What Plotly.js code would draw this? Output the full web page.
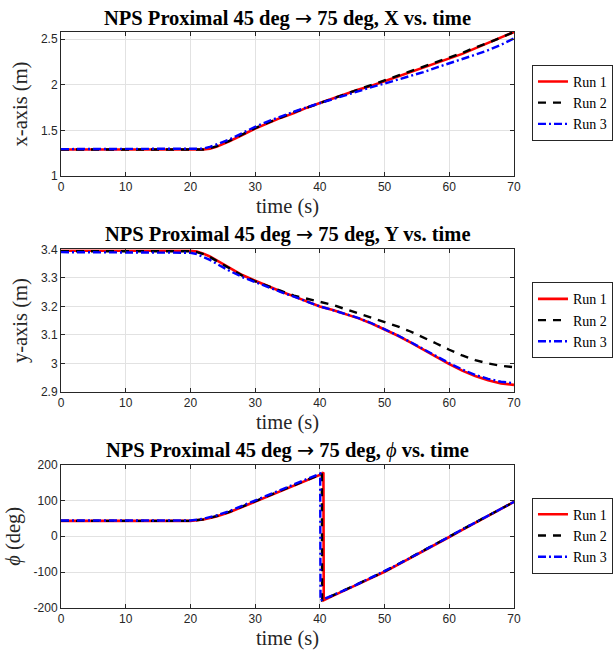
<!DOCTYPE html>
<html>
<head>
<meta charset="utf-8">
<script src="https://cdn.plot.ly/plotly-3.0.1.min.js"></script>
<style>
  html, body { margin: 0; padding: 0; background: #ffffff; overflow: hidden; }
  #chart { width: 613px; height: 652px; }
</style>
</head>
<body>
<div id="chart"></div>
<script>
// ---------- data ----------
const runNames = ['Run 1', 'Run 2', 'Run 3'];

const timeXY = [0, 5, 10, 15, 20, 21, 22, 23, 24, 25, 26, 28, 30, 32, 34, 36, 38, 40, 42, 44, 46, 48, 50, 52, 54, 56, 58, 60, 62, 64, 66, 68, 70];

const xRun1 = [1.29, 1.29, 1.29, 1.29, 1.29, 1.29, 1.29, 1.30, 1.32, 1.35, 1.38, 1.45, 1.52, 1.58, 1.64, 1.69, 1.75, 1.80, 1.85, 1.90, 1.95, 1.99, 2.04, 2.09, 2.14, 2.19, 2.24, 2.29, 2.34, 2.40, 2.46, 2.52, 2.58];
const xRun2 = [1.29, 1.29, 1.29, 1.29, 1.29, 1.29, 1.29, 1.305, 1.325, 1.355, 1.385, 1.455, 1.525, 1.585, 1.645, 1.70, 1.75, 1.80, 1.855, 1.905, 1.955, 2.00, 2.05, 2.10, 2.15, 2.20, 2.25, 2.30, 2.35, 2.41, 2.46, 2.52, 2.58];
const xRun3 = [1.295, 1.295, 1.295, 1.295, 1.295, 1.295, 1.30, 1.32, 1.345, 1.37, 1.40, 1.47, 1.54, 1.60, 1.655, 1.705, 1.755, 1.80, 1.845, 1.89, 1.935, 1.975, 2.015, 2.055, 2.10, 2.14, 2.19, 2.235, 2.28, 2.33, 2.38, 2.44, 2.51];

const yRun1 = [3.395, 3.395, 3.395, 3.395, 3.395, 3.392, 3.385, 3.375, 3.362, 3.35, 3.335, 3.31, 3.29, 3.27, 3.252, 3.235, 3.218, 3.20, 3.187, 3.173, 3.158, 3.14, 3.12, 3.098, 3.074, 3.048, 3.022, 2.998, 2.975, 2.956, 2.941, 2.930, 2.925];
const yRun2 = [3.393, 3.393, 3.393, 3.393, 3.393, 3.39, 3.383, 3.373, 3.36, 3.348, 3.333, 3.308, 3.288, 3.27, 3.254, 3.238, 3.226, 3.216, 3.205, 3.19, 3.175, 3.16, 3.145, 3.13, 3.112, 3.092, 3.07, 3.048, 3.028, 3.012, 3.0, 2.992, 2.987];
const yRun3 = [3.39, 3.39, 3.39, 3.39, 3.388, 3.383, 3.374, 3.363, 3.35, 3.337, 3.325, 3.303, 3.285, 3.267, 3.25, 3.234, 3.217, 3.20, 3.187, 3.174, 3.159, 3.141, 3.121, 3.099, 3.075, 3.05, 3.025, 3.001, 2.979, 2.96, 2.946, 2.936, 2.931];

const timePhi1 = [0, 5, 10, 15, 20, 22, 24, 26, 28, 30, 32, 34, 36, 38, 40, 40.55, 40.6, 42, 44, 46, 48, 50, 52, 54, 56, 58, 60, 62, 64, 66, 68, 70];
const phiRun1 = [43, 43, 43, 43, 43, 47, 55, 67, 82, 97, 111, 125, 140, 155, 171, 178, -178, -166, -150, -133, -116, -99, -80, -61, -42, -22, -2, 18, 37, 56, 76, 96];
const timePhi2 = [0, 5, 10, 15, 20, 22, 24, 26, 28, 30, 32, 34, 36, 38, 40, 40.3, 40.35, 42, 44, 46, 48, 50, 52, 54, 56, 58, 60, 62, 64, 66, 68, 70];
const phiRun2 = [43, 43, 43, 43, 43, 47, 56, 68, 83, 98, 112, 126, 141, 156, 172, 176, -178, -165, -149, -132, -115, -98, -79, -60, -41, -21, -1, 19, 38, 57, 77, 96];
const timePhi3 = [0, 5, 10, 15, 20, 22, 24, 26, 28, 30, 32, 34, 36, 38, 40, 40.05, 40.1, 42, 44, 46, 48, 50, 52, 54, 56, 58, 60, 62, 64, 66, 68, 70];
const phiRun3 = [44, 44, 44, 44, 44, 49, 58, 70, 85, 100, 114, 128, 143, 158, 173, 175, -179, -165, -149, -132, -115, -98, -79, -60, -41, -21, -1, 19, 38, 57, 77, 96];

const xTickVals = [1, 1.5, 2, 2.5];
const xTickText = ['1', '1.5', '2', '2.5'];
const yTickVals = [2.9, 3.0, 3.1, 3.2, 3.3, 3.4];
const yTickText = ['2.9', '3', '3.1', '3.2', '3.3', '3.4'];
const phiTickVals = [-200, -100, 0, 100, 200];
const phiTickText = ['-200', '-100', '0', '100', '200'];
const timeTickVals = [0, 10, 20, 30, 40, 50, 60, 70];

const arrow = '</b><span style="font-family:DejaVu Sans;font-weight:normal">\u2192</span><b>';
const titles = [
  'NPS Proximal 45 deg ' + arrow + ' 75 deg, X vs. time',
  'NPS Proximal 45 deg ' + arrow + ' 75 deg, Y vs. time',
  'NPS Proximal 45 deg ' + arrow + ' 75 deg, </b><i>\u03D5</i><b> vs. time'
];
const yLabels = ['x-axis (m)', 'y-axis (m)', '<i>\u03D5</i> (deg)'];
const xLabel = 'time (s)';

// ---------- styles ----------
const serif = 'Liberation Serif, Times New Roman, serif';
const sans = 'Liberation Sans, Arial, Helvetica, sans-serif';
const axCol = '#262626';
const styles = [
  { color: '#ff0000', width: 2.6, dash: 'solid' },
  { color: '#000000', width: 2.4, dash: '8px,7px' },
  { color: '#0000ff', width: 2.4, dash: '8px,3px,2px,3px' }
];

function mkTrace(xs, ys, i, p) {
  const sfx = p === 1 ? '' : String(p);
  return {
    type: 'scatter', mode: 'lines',
    x: xs, y: ys, name: runNames[i],
    xaxis: 'x' + sfx, yaxis: 'y' + sfx,
    legend: 'legend' + sfx,
    line: { color: styles[i].color, width: styles[i].width, dash: styles[i].dash }
  };
}

const traces = [
  mkTrace(timeXY, xRun1, 0, 1), mkTrace(timeXY, xRun2, 1, 1), mkTrace(timeXY, xRun3, 2, 1),
  mkTrace(timeXY, yRun1, 0, 2), mkTrace(timeXY, yRun2, 1, 2), mkTrace(timeXY, yRun3, 2, 2),
  mkTrace(timePhi1, phiRun1, 0, 3), mkTrace(timePhi2, phiRun2, 1, 3), mkTrace(timePhi3, phiRun3, 2, 3)
];

function baseAxis() {
  return {
    showline: true, linecolor: axCol, linewidth: 1, mirror: 'ticks',
    ticks: 'inside', ticklen: 4, tickcolor: axCol, tickwidth: 1,
    showgrid: true, gridcolor: '#e2e2e2', gridwidth: 1, zeroline: false,
    tickfont: { family: sans, size: 12, color: axCol },
    automargin: false
  };
}
function xAxis(anchor) {
  return Object.assign(baseAxis(), {
    anchor: anchor, range: [0, 70], tickvals: timeTickVals,
    title: { text: xLabel, font: { family: serif, size: 20.5, color: axCol }, standoff: 5 }
  });
}
function yAxis(anchor, domain, range, tv, tt, label) {
  return Object.assign(baseAxis(), {
    anchor: anchor, domain: domain, range: range, tickvals: tv, ticktext: tt,
    title: { text: label, font: { family: serif, size: 20.5, color: axCol }, standoff: 7 }
  });
}
function legendAt(y) {
  return {
    x: 1.0397, xanchor: 'left', y: y, yanchor: 'middle',
    bgcolor: '#ffffff', bordercolor: axCol, borderwidth: 1,
    font: { family: serif, size: 14, color: '#000000' },
    tracegroupgap: 0, itemwidth: 30,
    entrywidth: 120, entrywidthmode: 'pixels'
  };
}
function titleAnn(text, y) {
  return {
    text: '<b>' + text + '</b>', xref: 'paper', yref: 'paper', x: 0.5, y: y,
    xanchor: 'center', yanchor: 'middle', showarrow: false,
    font: { family: serif, size: 20.5, color: '#000000' }
  };
}

const layout = {
  width: 613, height: 652,
  margin: { l: 61, r: 99, t: 31.7, b: 44.3, autoexpand: false },
  paper_bgcolor: '#ffffff', plot_bgcolor: '#ffffff',
  showlegend: true,
  xaxis: xAxis('y'),
  xaxis2: xAxis('y2'),
  xaxis3: xAxis('y3'),
  yaxis: yAxis('x', [0.75, 1.0], [1, 2.58], xTickVals, xTickText, yLabels[0]),
  yaxis2: yAxis('x2', [0.375, 0.6227], [2.9, 3.4], yTickVals, yTickText, yLabels[1]),
  yaxis3: yAxis('x3', [0, 0.249], [-200, 200], phiTickVals, phiTickText, yLabels[2]),
  legend: legendAt(0.877),
  legend2: legendAt(0.4995),
  legend3: legendAt(0.1255),
  annotations: [
    titleAnn(titles[0], 1.0247),
    titleAnn(titles[1], 0.6488),
    titleAnn(titles[2], 0.2738)
  ]
};

Plotly.newPlot('chart', traces, layout, { displayModeBar: false, staticPlot: true });
</script>
</body>
</html>
